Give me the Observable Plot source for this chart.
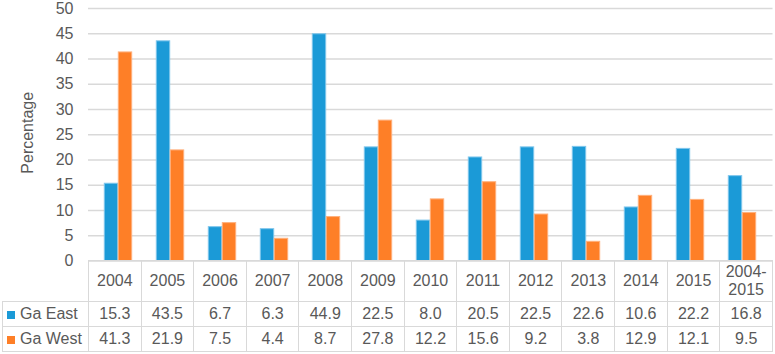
<!DOCTYPE html>
<html>
<head>
<meta charset="utf-8">
<script src="https://cdn.jsdelivr.net/npm/d3@7"></script>
<script src="https://cdn.jsdelivr.net/npm/@observablehq/plot@0.6"></script>
<style>
  html, body { margin: 0; padding: 0; background: #fff; }
  #chart { position: relative; width: 775px; height: 354px; font-family: "Liberation Sans", Arial, sans-serif; color: #595959; overflow: hidden; }
  #chart svg { position: absolute; left: 0; top: 0; }
  #chart table { position: absolute; left: 2px; top: 260px; border-collapse: collapse; table-layout: fixed; width: 771px; font-size: 16px; color: #595959; font-family: "Liberation Sans", Arial, sans-serif; }
  #chart th, #chart td { border: 1px solid #d9d9d9; padding: 0; text-align: center; font-weight: normal; line-height: 18px; }
  #chart th.corner { border-top: none; border-left: none; }
  #chart tr.head { height: 41px; }
  #chart tr.row { height: 25px; }
  #chart td.leg { text-align: left; padding-left: 4px; white-space: nowrap; }
  #chart .sw { display: inline-block; width: 8px; height: 8px; margin-right: 5px; vertical-align: 0px; }
</style>
</head>
<body>
<div id="chart"></div>
<script>
const years = ["2004","2005","2006","2007","2008","2009","2010","2011","2012","2013","2014","2015","2004-2015"];
const series = ["Ga East", "Ga West"];
const gaEast = [15.3, 43.5, 6.7, 6.3, 44.9, 22.5, 8.0, 20.5, 22.5, 22.6, 10.6, 22.2, 16.8];
const gaWest = [41.3, 21.9, 7.5, 4.4, 8.7, 27.8, 12.2, 15.6, 9.2, 3.8, 12.9, 12.1, 9.5];
const yTicks = [0, 5, 10, 15, 20, 25, 30, 35, 40, 45, 50];
const yLabel = "Percentage";
const fills = ["#1b9ad7", "#fe7f27"];
const strokes = ["#7fc6ec", "#ffb07c"];

const eastData = years.map((year, i) => ({year, value: gaEast[i]}));
const westData = years.map((year, i) => ({year, value: gaWest[i]}));

const plot = Plot.plot({
  width: 775,
  height: 262,
  marginLeft: 88,
  marginRight: 2.5,
  marginTop: 8,
  marginBottom: 1.5,
  style: {fontFamily: "'Liberation Sans', Arial, sans-serif", fontSize: "16px", color: "#595959", background: "transparent", overflow: "visible"},
  x: {domain: years, padding: 0, axis: null},
  y: {domain: [0, 50]},
  marks: [
    Plot.gridY(yTicks, {stroke: "#d9d9d9", strokeOpacity: 1, strokeWidth: 1.3}),
    Plot.axisY(yTicks, {tickSize: 0, tickPadding: 15, label: null, fontSize: 16, fill: "#595959"}),
    Plot.text([yLabel], {frameAnchor: "left", textAnchor: "middle", lineAnchor: "middle", rotate: -90, dx: -61, dy: -2, fontSize: 16, fill: "#595959"}),
    Plot.barY(eastData, {x: "year", y: "value", fill: fills[0], stroke: strokes[0], strokeWidth: 1, insetLeft: 12.3, insetRight: 26.3}),
    Plot.barY(westData, {x: "year", y: "value", fill: fills[1], stroke: strokes[1], strokeWidth: 1, insetLeft: 26.3, insetRight: 12.3})
  ]
});

const chart = document.getElementById("chart");
chart.appendChild(plot);

// Data table below the chart (Excel-style)
const table = document.createElement("table");
const colgroup = document.createElement("colgroup");
const c0 = document.createElement("col"); c0.style.width = "86px"; colgroup.appendChild(c0);
years.forEach(() => { const c = document.createElement("col"); colgroup.appendChild(c); });
table.appendChild(colgroup);

const head = document.createElement("tr"); head.className = "head";
const corner = document.createElement("th"); corner.className = "corner"; head.appendChild(corner);
years.forEach(y => { const th = document.createElement("th"); th.textContent = y; head.appendChild(th); });
table.appendChild(head);

[gaEast, gaWest].forEach((vals, si) => {
  const tr = document.createElement("tr"); tr.className = "row";
  const leg = document.createElement("td"); leg.className = "leg";
  const sw = document.createElement("span"); sw.className = "sw"; sw.style.background = fills[si];
  leg.appendChild(sw);
  leg.appendChild(document.createTextNode(series[si]));
  tr.appendChild(leg);
  vals.forEach(v => { const td = document.createElement("td"); td.textContent = v.toFixed(1); tr.appendChild(td); });
  table.appendChild(tr);
});
chart.appendChild(table);
</script>
</body>
</html>
